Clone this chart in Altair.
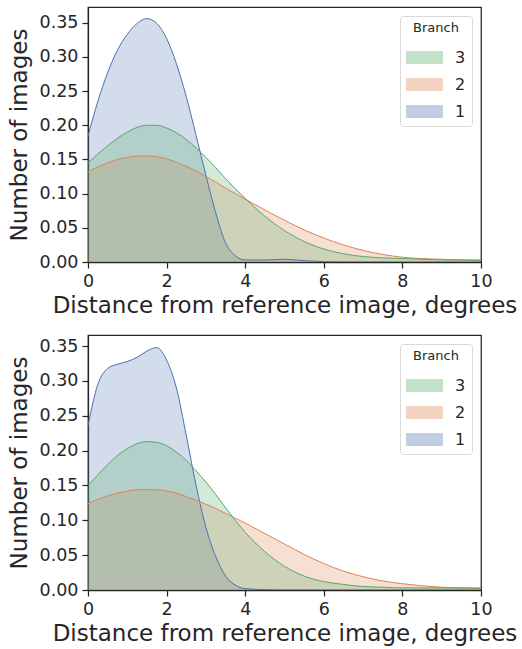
import altair as alt
import pandas as pd

x_grid = [0, 0.25, 0.5, 0.75, 1, 1.25, 1.5, 1.75, 2, 2.25, 2.5, 2.75, 3, 3.25, 3.5, 3.75, 4,
          4.5, 5, 5.5, 6, 6.5, 7, 7.5, 8, 8.5, 9, 9.5, 10]

branches = ["3", "2", "1"]
colors = ["#55a868", "#dd8452", "#4c72b0"]

# top panel
top_b1 = [0.184, 0.235, 0.277, 0.31, 0.333, 0.349, 0.356, 0.349, 0.327, 0.29, 0.242, 0.185, 0.127, 0.072, 0.028, 0.009, 0.003,
          0.003, 0.004, 0.002, 0.0005, 0.0, 0.0, 0.0, 0.0, 0.0, 0.0, 0.0, 0.0]
top_b2 = [0.132, 0.139, 0.145, 0.15, 0.153, 0.155, 0.155, 0.154, 0.151, 0.146, 0.14, 0.133, 0.125, 0.117, 0.108, 0.1, 0.092,
          0.076, 0.061, 0.047, 0.035, 0.025, 0.017, 0.011, 0.007, 0.005, 0.004, 0.003, 0.003]
top_b3 = [0.145, 0.158, 0.17, 0.181, 0.19, 0.197, 0.2, 0.2, 0.196, 0.189, 0.179, 0.167, 0.153, 0.138, 0.122, 0.107, 0.093,
          0.067, 0.046, 0.03, 0.019, 0.012, 0.008, 0.006, 0.005, 0.004, 0.003, 0.003, 0.002]

# bottom panel
bot_b1 = [0.236, 0.295, 0.318, 0.324, 0.328, 0.334, 0.343, 0.348, 0.33, 0.29, 0.222, 0.15, 0.09, 0.048, 0.02, 0.007, 0.002,
          0.0005, 0.0, 0.0, 0.0, 0.0, 0.0, 0.0, 0.0, 0.0, 0.0, 0.0, 0.0]
bot_b2 = [0.124, 0.13, 0.135, 0.139, 0.142, 0.144, 0.144, 0.144, 0.142, 0.139, 0.134, 0.129, 0.123, 0.117, 0.11, 0.103, 0.096,
          0.081, 0.066, 0.051, 0.038, 0.027, 0.019, 0.013, 0.009, 0.006, 0.004, 0.003, 0.002]
bot_b3 = [0.15, 0.165, 0.18, 0.193, 0.203, 0.21, 0.213, 0.212, 0.207, 0.198, 0.186, 0.171, 0.155, 0.137, 0.118, 0.1, 0.083,
          0.055, 0.034, 0.02, 0.012, 0.008, 0.005, 0.004, 0.003, 0.003, 0.003, 0.003, 0.003]

y_ticks = [0, 0.05, 0.1, 0.15, 0.2, 0.25, 0.3, 0.35]
x_ticks = [0, 2, 4, 6, 8, 10]


def make_df(series):
    rows = []
    for order, (b, vals) in enumerate(series):
        for xv, yv in zip(x_grid, vals):
            rows.append({"x": xv, "y": yv, "Branch": b, "order": order})
    return pd.DataFrame(rows)


AX = "#262626"


def panel(df, ymax):
    xenc = alt.X("x:Q", scale=alt.Scale(domain=[0, 10], nice=False),
                 axis=alt.Axis(values=x_ticks, title="Distance from reference image, degrees",
                               labelFlush=False, titlePadding=5))
    yenc = alt.Y("y:Q", stack=None, scale=alt.Scale(domain=[0, ymax], nice=False),
                 axis=alt.Axis(values=y_ticks, format=".2f", title="Number of images", titlePadding=8))
    legend = alt.Legend(
        title="Branch", orient="top-right", offset=9,
        symbolType="M-1,-0.333H1V0.333H-1Z", symbolSize=1296,
        symbolStrokeWidth=1, symbolOpacity=0.35,
    )
    area = alt.Chart(df).mark_area(interpolate="monotone", clip=True, fillOpacity=0.25).encode(
        x=xenc, y=yenc,
        fill=alt.Fill("Branch:N", scale=alt.Scale(domain=branches, range=colors), legend=legend, sort=branches),
        order=alt.Order("order:Q"),
    )
    line = alt.Chart(df).mark_line(strokeWidth=1, interpolate="monotone", clip=True).encode(
        x=xenc, y=yenc,
        stroke=alt.Stroke("Branch:N", scale=alt.Scale(domain=branches, range=colors), legend=legend, sort=branches),
        order=alt.Order("order:Q"),
    )
    return alt.layer(area, line).properties(width=393, height=255)


df_top = make_df([("1", top_b1), ("2", top_b2), ("3", top_b3)])
df_bot = make_df([("1", bot_b1), ("2", bot_b2), ("3", bot_b3)])

chart = alt.vconcat(panel(df_top, 0.373), panel(df_bot, 0.366), spacing=15).resolve_scale(
    fill="independent", stroke="independent"
).configure(
    font="DejaVu Sans",
    padding={"left": 7, "top": 6, "right": 0, "bottom": 0},
).configure_view(
    stroke=AX, strokeWidth=1.25
).configure_axis(
    grid=False, domainColor=AX, domainWidth=1.25, tickColor=AX, tickWidth=1.25, tickSize=6,
    labelColor=AX, labelFontSize=17.5, labelFont="DejaVu Sans", labelPadding=4,
    titleColor=AX, titleFontSize=23, titleFont="DejaVu Sans", titleFontWeight="normal",
).configure_legend(
    fillColor="white", strokeColor="#d9d9d9", cornerRadius=3, padding=6,
    titleFontSize=13, titleFontWeight="normal", titleColor=AX, titleAnchor="middle", titlePadding=4,
    labelFontSize=16, labelColor=AX, labelOffset=12, rowPadding=-10,
)

chart.save("out.html", embed_options={"renderer": "svg", "actions": False})
